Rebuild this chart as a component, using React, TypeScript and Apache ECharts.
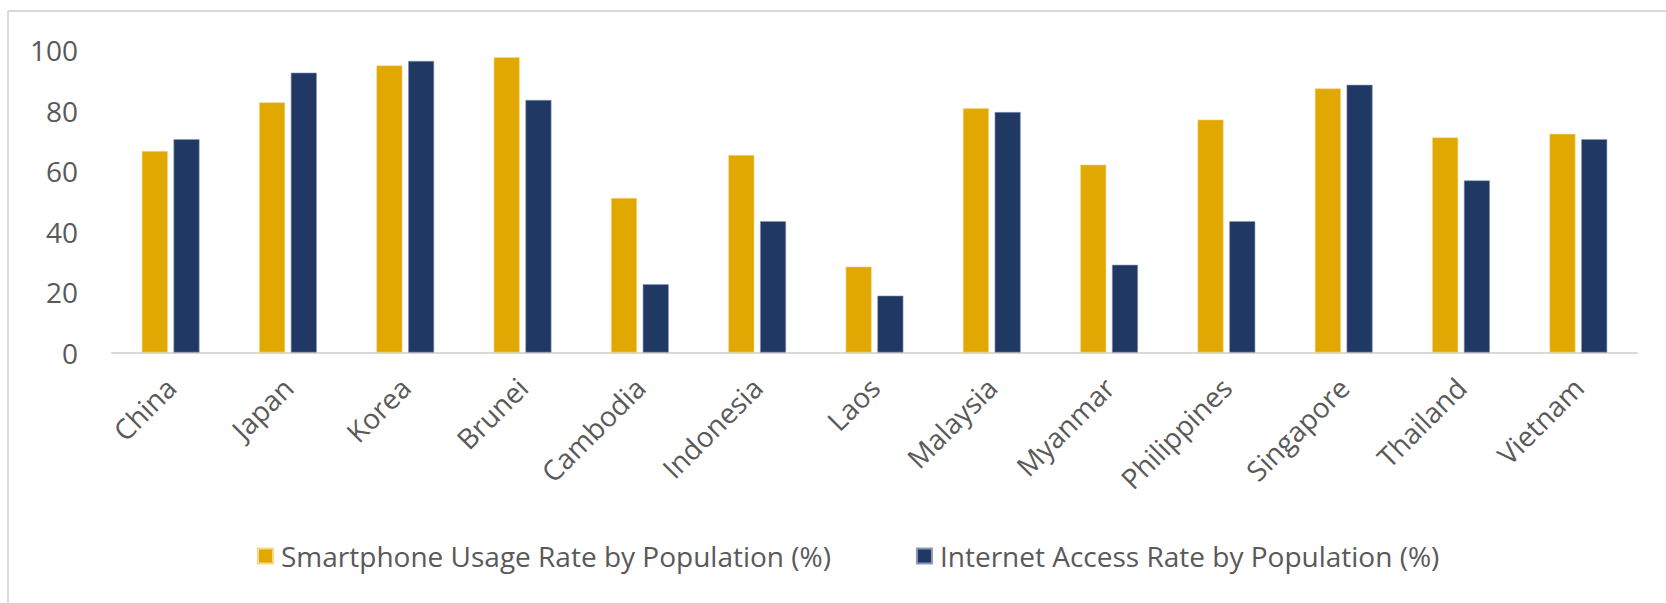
import React, { useEffect, useRef } from "react";
import * as echarts from "echarts";

const categories = [
  "China", "Japan", "Korea", "Brunei", "Cambodia", "Indonesia", "Laos",
  "Malaysia", "Myanmar", "Philippines", "Singapore", "Thailand", "Vietnam",
];
const smartphoneRate = [66.6, 82.7, 94.9, 97.6, 51.1, 65.3, 28.4, 80.8, 62.1, 77.0, 87.3, 71.1, 72.3];
const internetRate = [70.5, 92.5, 96.4, 83.5, 22.6, 43.4, 18.8, 79.5, 29.0, 43.4, 88.5, 56.9, 70.5];
const seriesNames = [
  "Smartphone Usage Rate by Population (%)",
  "Internet Access Rate by Population (%)",
];
const yTicks = { min: 0, max: 100, interval: 20 };

const FONT = "'Open Sans', sans-serif";
const TEXT = "#595959";

export default function App() {
  const ref = useRef<HTMLDivElement>(null);
  useEffect(() => {
    document.body.style.margin = "0";
    const chart = echarts.init(ref.current!, null, { renderer: "svg" });
    chart.setOption({
      animation: false,
      backgroundColor: "#ffffff",
      textStyle: { fontFamily: FONT, color: TEXT },
      graphic: [
        { type: "line", shape: { x1: 8, y1: 11, x2: 1666, y2: 11 }, style: { stroke: "#d9d9d9", lineWidth: 2 } },
        { type: "line", shape: { x1: 8, y1: 11, x2: 8, y2: 603 }, style: { stroke: "#d9d9d9", lineWidth: 2 } },
      ],
      grid: { left: 112, right: 29, top: 50, bottom: 250.5, containLabel: false },
      legend: {
        left: 252,
        top: 537,
        itemWidth: 15,
        itemHeight: 15,
        itemGap: 85,
        icon: "rect",
        textStyle: { fontFamily: FONT, fontSize: 28, color: TEXT, padding: [0, 0, 0, 3] },
        data: seriesNames,
      },
      xAxis: {
        type: "category",
        data: categories,
        axisLine: { show: true, lineStyle: { color: "#d9d9d9", width: 2 } },
        axisTick: { show: false },
        axisLabel: { rotate: 45, margin: 30, fontFamily: FONT, fontSize: 28, color: TEXT, interval: 0 },
      },
      yAxis: {
        type: "value",
        min: yTicks.min,
        max: yTicks.max,
        interval: yTicks.interval,
        axisLine: { show: false },
        axisTick: { show: false },
        splitLine: { show: false },
        axisLabel: { margin: 34, fontFamily: FONT, fontSize: 28, color: TEXT },
      },
      series: [
        {
          name: seriesNames[0],
          type: "bar",
          data: smartphoneRate,
          barWidth: 26,
          barGap: "22%",
          itemStyle: { color: "#E0A800", borderColor: "#F2D98A", borderWidth: 0.6 },
        },
        {
          name: seriesNames[1],
          type: "bar",
          data: internetRate,
          barWidth: 26,
          barGap: "22%",
          itemStyle: { color: "#1F3864", borderColor: "#8C9AB4", borderWidth: 0.6 },
        },
      ],
    });
    return () => chart.dispose();
  }, []);
  return <div ref={ref} style={{ width: 1666, height: 603 }} />;
}
